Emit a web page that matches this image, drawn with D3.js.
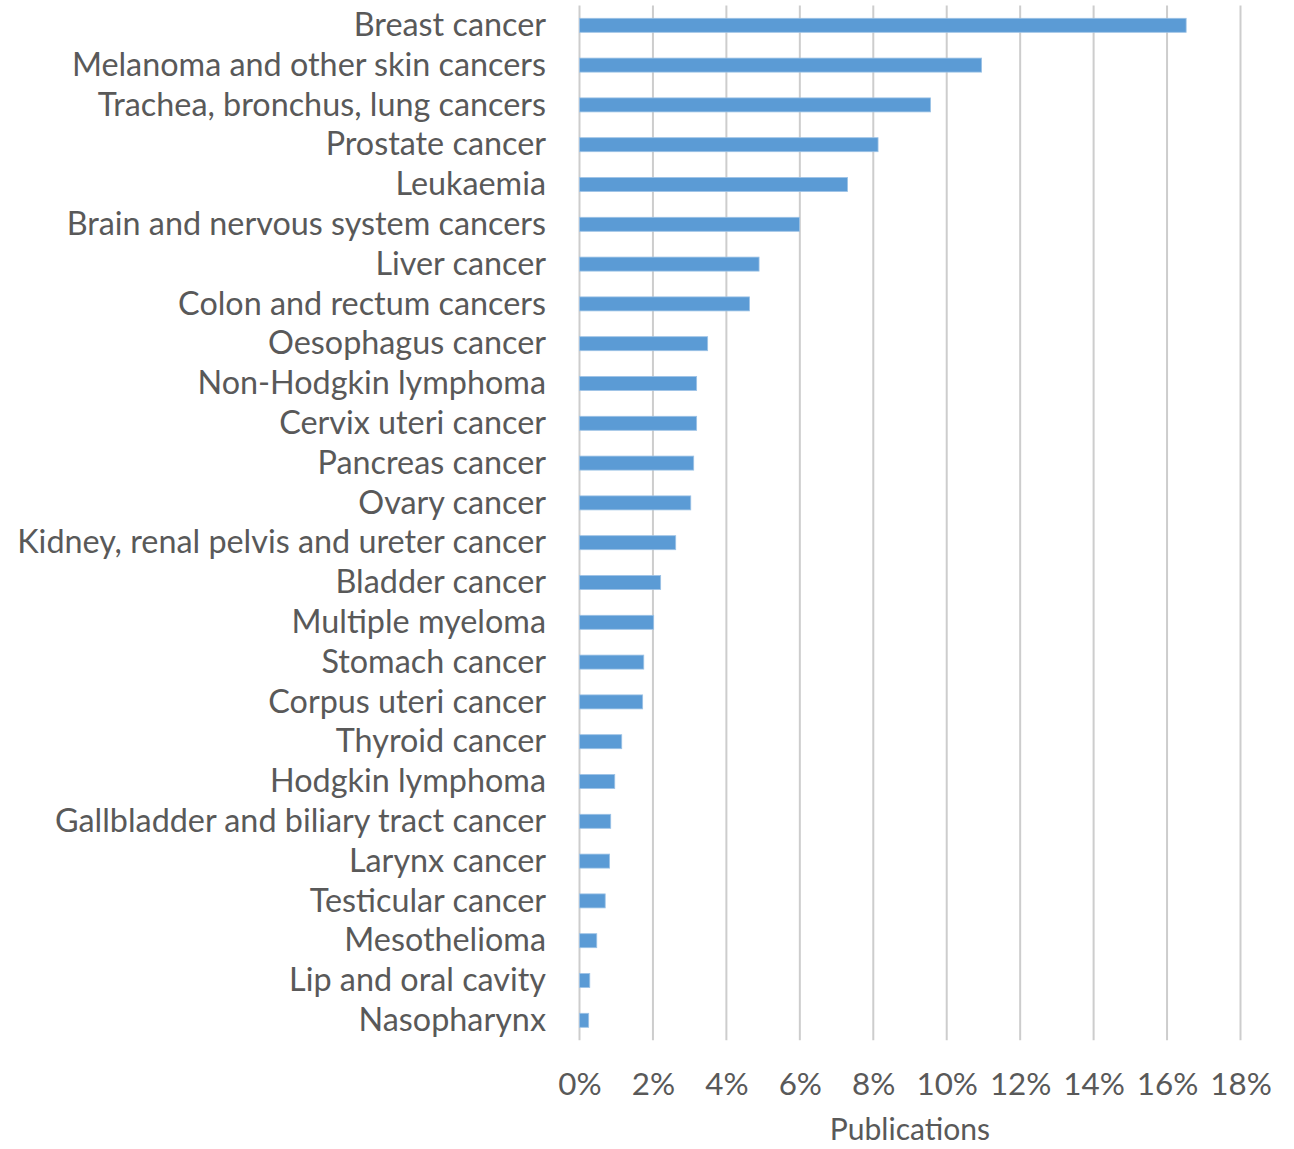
<!DOCTYPE html>
<html>
<head>
<meta charset="utf-8">
<script src="https://cdn.jsdelivr.net/npm/d3@7"></script>
<style>
  html, body { margin: 0; padding: 0; background: #ffffff; }
  svg { display: block; }
  text { font-family: Lato, "Open Sans", sans-serif; fill: #595959; }
</style>
</head>
<body>
<svg id="chart" width="1294" height="1149"></svg>
<script>
// Share of publications by cancer type (%)
const categories = [
  "Breast cancer",
  "Melanoma and other skin cancers",
  "Trachea, bronchus, lung cancers",
  "Prostate cancer",
  "Leukaemia",
  "Brain and nervous system cancers",
  "Liver cancer",
  "Colon and rectum cancers",
  "Oesophagus cancer",
  "Non-Hodgkin lymphoma",
  "Cervix uteri cancer",
  "Pancreas cancer",
  "Ovary cancer",
  "Kidney, renal pelvis and ureter cancer",
  "Bladder cancer",
  "Multiple myeloma",
  "Stomach cancer",
  "Corpus uteri cancer",
  "Thyroid cancer",
  "Hodgkin lymphoma",
  "Gallbladder and biliary tract cancer",
  "Larynx cancer",
  "Testicular cancer",
  "Mesothelioma",
  "Lip and oral cavity",
  "Nasopharynx"
];
const publications = [
  16.52, 10.95, 9.56, 8.13, 7.30, 5.99, 4.89, 4.63, 3.49, 3.19,
  3.19, 3.11, 3.03, 2.62, 2.21, 2.02, 1.75, 1.72, 1.15, 0.96,
  0.85, 0.82, 0.70, 0.47, 0.28, 0.25
];
const tickValues = [0, 2, 4, 6, 8, 10, 12, 14, 16, 18];
const axisTitle = "Publications";

const svg = d3.select("#chart");

const plot = { left: 579.5, right: 1240.5, top: 5.4, bottom: 1040.2 };

const x = d3.scaleLinear()
  .domain([0, 18])
  .range([plot.left, plot.right]);

const y = d3.scaleBand()
  .domain(categories)
  .range([plot.top, plot.bottom])
  .paddingInner(0.648)
  .paddingOuter(0.324);

// Size the label font so the longest category label spans the label column
const probe = svg.append("text")
  .attr("font-size", 100)
  .text(categories[13]);
const probeWidth = probe.node().getComputedTextLength();
probe.remove();
const fontSize = Math.min(34, 100 * 529 / probeWidth);
const capShift = fontSize * 0.33;

// Vertical gridlines
svg.append("g")
  .attr("class", "grid")
  .selectAll("line")
  .data(tickValues)
  .join("line")
  .attr("x1", d => x(d))
  .attr("x2", d => x(d))
  .attr("y1", plot.top)
  .attr("y2", plot.bottom)
  .attr("stroke", "#cdcdcd")
  .attr("stroke-width", 2);

// Bars
svg.append("g")
  .attr("class", "bars")
  .selectAll("rect")
  .data(categories)
  .join("rect")
  .attr("x", x(0))
  .attr("y", d => y(d))
  .attr("width", (d, i) => x(publications[i]) - x(0))
  .attr("height", y.bandwidth())
  .attr("fill", "#5b9bd5")
  .attr("stroke", "#9dc3e6")
  .attr("stroke-width", 0.8);

// Category labels
svg.append("g")
  .attr("class", "y-labels")
  .selectAll("text")
  .data(categories)
  .join("text")
  .attr("x", 546)
  .attr("y", d => y(d) + y.bandwidth() / 2 + capShift)
  .attr("text-anchor", "end")
  .attr("font-size", fontSize)
  .text(d => d);

// X axis tick labels
const xAxis = d3.axisBottom(x)
  .tickValues(tickValues)
  .tickFormat(d => d + "%")
  .tickSize(0)
  .tickPadding(0);

const axisG = svg.append("g")
  .attr("class", "x-axis")
  .attr("transform", `translate(0, 1074)`)
  .call(xAxis);
axisG.select(".domain").remove();
axisG.selectAll("text")
  .attr("font-size", fontSize * 0.97)
  .attr("fill", "#595959")
  .attr("dy", null)
  .attr("y", 21)
  .style("font-family", "Lato, 'Open Sans', sans-serif");

// Axis title
svg.append("text")
  .attr("x", (plot.left + plot.right) / 2)
  .attr("y", 1140)
  .attr("text-anchor", "middle")
  .attr("font-size", fontSize * 0.93)
  .text(axisTitle);
</script>
</body>
</html>
